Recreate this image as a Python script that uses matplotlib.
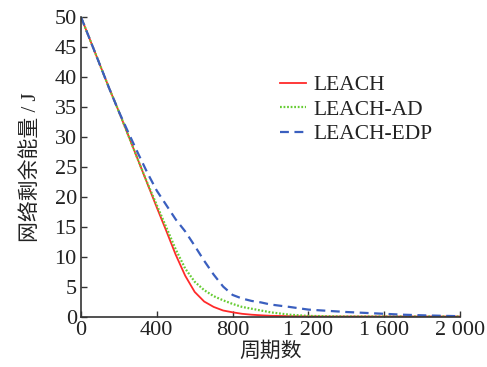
import matplotlib
matplotlib.use("Agg")
import matplotlib.pyplot as plt

# ---- data ----
rounds = [0, 50, 100, 150, 200, 250, 300, 350, 400, 450, 500, 550, 600, 650, 700,
          750, 800, 850, 900, 950, 1000, 1100, 1200, 1300, 1400, 1500, 1600,
          1700, 1800, 1900, 2000]
leach = [50, 46, 42, 38, 34.2, 30.2, 26.2, 22.2, 18.2, 14.3, 10.3, 6.8, 4.1, 2.5, 1.6,
         1.0, 0.7, 0.45, 0.3, 0.2, 0.12, 0.05, 0.02, 0, 0, 0, 0,
         0, 0, 0, 0]
leach_ad = [50, 46, 42, 38, 34.2, 30.2, 26.2, 22.3, 18.6, 14.9, 11.2, 8.0, 5.8, 4.4, 3.4,
            2.7, 2.1, 1.6, 1.3, 1.0, 0.7, 0.3, 0.1, 0.05, 0, 0, 0,
            0, 0, 0, 0]
leach_edp = [50, 46, 42, 38, 34.2, 30.7, 27.3, 24.0, 21.0, 18.6, 16.2, 14.2, 11.8, 9.3, 7.0,
             5.0, 3.6, 3.0, 2.6, 2.35, 2.0, 1.6, 1.15, 0.95, 0.75, 0.6, 0.45,
             0.3, 0.2, 0.12, 0.05]
series_names = ["LEACH", "LEACH-AD", "LEACH-EDP"]
xticks = [0, 400, 800, 1200, 1600, 2000]
xtick_labels = ["0", "400", "800", "1 200", "1 600", "2 000"]
yticks = [0, 5, 10, 15, 20, 25, 30, 35, 40, 45, 50]
xlabel = "周期数"
ylabel = "网络剩余能量 / J"

plt.rcParams['font.family'] = ['Liberation Serif', 'Noto Sans CJK SC', 'DejaVu Sans']

fig = plt.figure(figsize=(4.87, 3.67), dpi=100)
ax = fig.add_axes([81 / 487, 1 - 316.5 / 367, (460 - 81) / 487, (316.5 - 17) / 367])

ax.plot(rounds, leach, color="#ff2a2a", lw=1.3, ls="-", label=series_names[0])
ax.plot(rounds, leach_ad, color="#66cc33", lw=1.6, ls=(0, (0.8, 0.8)), label=series_names[1])
ax.plot(rounds, leach_edp, color="#3a5fbf", lw=1.6, ls=(0, (4, 2.5)), label=series_names[2])

ax.set_xlim(0, 2000)
ax.set_ylim(0, 50)
ax.set_xticks(xticks)
ax.set_xticklabels(xtick_labels)
ax.set_yticks(yticks)

for s in ["top", "right"]:
    ax.spines[s].set_visible(False)
for s in ["left", "bottom"]:
    ax.spines[s].set_color("#333333")
    ax.spines[s].set_linewidth(1.2)

ax.tick_params(direction="in", length=4, width=1.0, color="#333333",
               labelsize=16, labelcolor="#222222", pad=3)

ax.set_xlabel(xlabel, fontsize=15, color="#222222", labelpad=2)
ax.set_ylabel(ylabel, fontsize=15, color="#222222", labelpad=10)

leg = ax.legend(loc="upper left", bbox_to_anchor=(0.525, 0.805), frameon=False,
                fontsize=15.5, handlelength=1.2, handletextpad=0.35,
                labelspacing=0.2, borderaxespad=0, borderpad=0)
for t in leg.get_texts():
    t.set_color("#222222")

fig.savefig("out.png", dpi=100)
